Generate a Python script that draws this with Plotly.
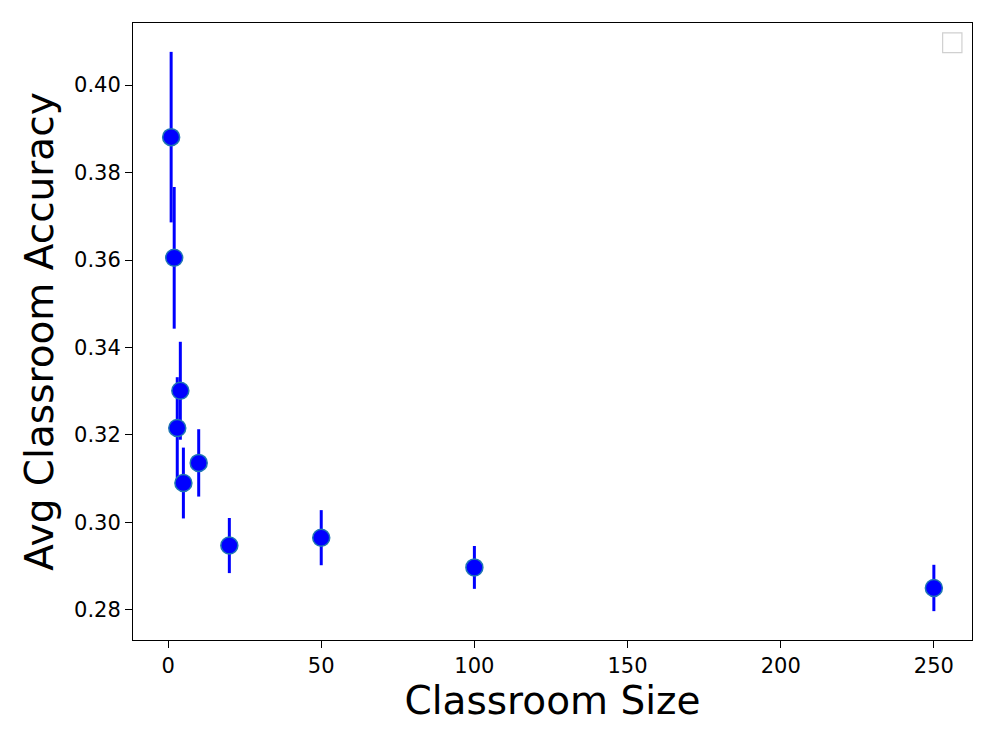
import plotly.graph_objects as go

# classroom size vs mean accuracy, with std error bars
sizes = [1, 2, 3, 4, 5, 10, 20, 50, 100, 250]
accuracy = [0.3881, 0.3605, 0.3216, 0.3301, 0.3090, 0.3136, 0.2947, 0.2965, 0.2897, 0.2850]
errors = [0.0195, 0.0162, 0.0116, 0.0112, 0.0081, 0.0077, 0.0063, 0.0063, 0.0049, 0.0053]

x_ticks = [0, 50, 100, 150, 200, 250]
y_ticks = [0.28, 0.30, 0.32, 0.34, 0.36, 0.38, 0.40]

fig = go.Figure()
fig.add_trace(
    go.Scatter(
        x=sizes,
        y=accuracy,
        mode="markers",
        marker=dict(size=17, color="#0000ff", line=dict(color="#1f77b4", width=1.5)),
        error_y=dict(type="data", array=errors, visible=True, color="#0000ff", thickness=3, width=0),
        showlegend=False,
    )
)

# empty legend frame (matplotlib drew a legend with no entries)
fig.add_shape(
    type="rect", xref="paper", yref="paper",
    x0=0.965, x1=0.988, y0=0.952, y1=0.984,
    line=dict(color="#d0d0d0", width=1.2), fillcolor="white",
)

axis_style = dict(
    showgrid=False,
    zeroline=False,
    showline=True,
    linecolor="black",
    linewidth=1,
    mirror=True,
    ticks="outside",
    ticklen=7,
    tickcolor="black",
    tickfont=dict(family="DejaVu Sans", size=21, color="black"),
)

fig.update_xaxes(
    range=[-11.45, 262.45],
    tickvals=x_ticks,
    title=dict(text="Classroom Size", font=dict(family="DejaVu Sans", size=39, color="black"), standoff=4),
    **axis_style,
)
fig.update_yaxes(
    range=[0.2731, 0.4142],
    tickvals=y_ticks,
    tickformat=".2f",
    title=dict(text="Avg Classroom Accuracy", font=dict(family="DejaVu Sans", size=39, color="black"), standoff=8),
    **axis_style,
)

# page body adds an 8px offset, margins are compensated for it
fig.update_layout(
    width=996,
    height=747,
    margin=dict(l=125, r=32, t=15, b=115),
    plot_bgcolor="white",
    paper_bgcolor="white",
)

fig.write_html("out.html")
